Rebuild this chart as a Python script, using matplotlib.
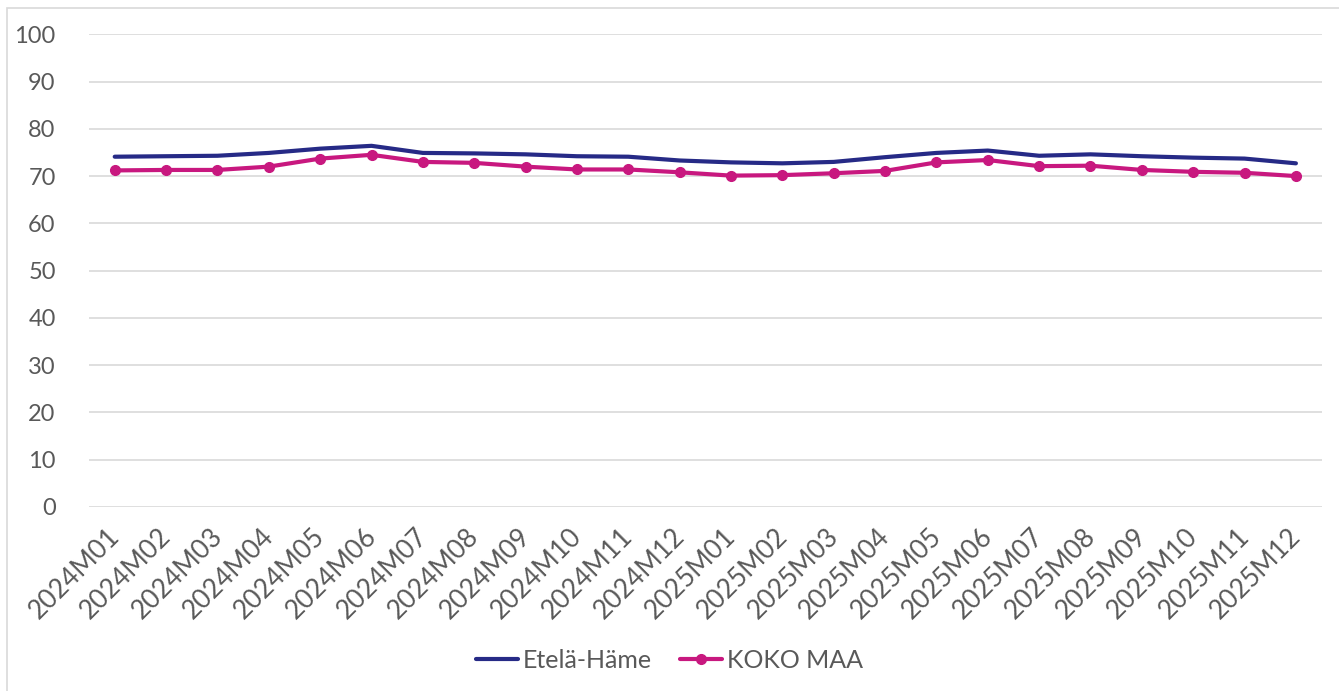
import matplotlib.pyplot as plt
from matplotlib.patches import Rectangle
from matplotlib.transforms import ScaledTranslation

plt.rcParams['font.family'] = ['Lato', 'DejaVu Sans']

months = ['2024M01', '2024M02', '2024M03', '2024M04', '2024M05', '2024M06',
          '2024M07', '2024M08', '2024M09', '2024M10', '2024M11', '2024M12',
          '2025M01', '2025M02', '2025M03', '2025M04', '2025M05', '2025M06',
          '2025M07', '2025M08', '2025M09', '2025M10', '2025M11', '2025M12']

etela_hame = [74.1, 74.2, 74.3, 74.9, 75.8, 76.4, 74.9, 74.8, 74.6, 74.2, 74.1, 73.3,
              72.9, 72.7, 73.0, 74.0, 74.9, 75.4, 74.3, 74.6, 74.2, 73.9, 73.7, 72.7]
koko_maa = [71.2, 71.3, 71.3, 72.0, 73.7, 74.5, 73.0, 72.8, 72.0, 71.4, 71.4, 70.8,
            70.1, 70.2, 70.6, 71.1, 72.9, 73.4, 72.1, 72.2, 71.3, 70.9, 70.7, 70.0]

yticks = list(range(0, 101, 10))

text_col = '#595959'
grid_col = '#D9D9D9'

fig = plt.figure(figsize=(13.39, 6.91), dpi=100)
ax = fig.add_axes([0.0665, 0.2663, 0.9205, 0.6841])

# outer chart border
fig.patches.append(Rectangle((7 / 1339, -0.01), 1.0, 1 - 8 / 691 + 0.01,
                             transform=fig.transFigure, fill=False,
                             edgecolor=grid_col, linewidth=1.2))

x = range(len(months))
ax.plot(x, etela_hame, color='#262A86', linewidth=3, label='Etelä-Häme',
        solid_capstyle='round', zorder=3)
ax.plot(x, koko_maa, color='#C8187F', linewidth=3, marker='o', markersize=7,
        label='KOKO MAA', solid_capstyle='round', zorder=3)

ax.set_xlim(-0.5, len(months) - 0.5)
ax.set_ylim(0, 100)
ax.set_yticks(yticks)
ax.set_xticks(list(x))
ax.set_xticklabels(months, rotation=45, ha='right', rotation_mode='anchor')

ax.grid(axis='y', color=grid_col, linewidth=1.2)
ax.set_axisbelow(True)
for s in ax.spines.values():
    s.set_visible(False)
ax.tick_params(axis='both', length=0, labelsize=17, colors=text_col)
ax.tick_params(axis='y', pad=24)
ax.tick_params(axis='x', pad=12, labelsize=19)

# nudge rotated labels so they end right at the tick
shift = ScaledTranslation(-8 / 100, 0, fig.dpi_scale_trans)
for lbl in ax.get_xticklabels():
    lbl.set_transform(lbl.get_transform() + shift)

fig.legend(loc='center', bbox_to_anchor=(0.5, 1 - 660 / 691), ncol=2,
           frameon=False, fontsize=18, labelcolor=text_col,
           handlelength=1.65, handletextpad=0.2, columnspacing=1.15)

fig.savefig('out.png', dpi=100)
